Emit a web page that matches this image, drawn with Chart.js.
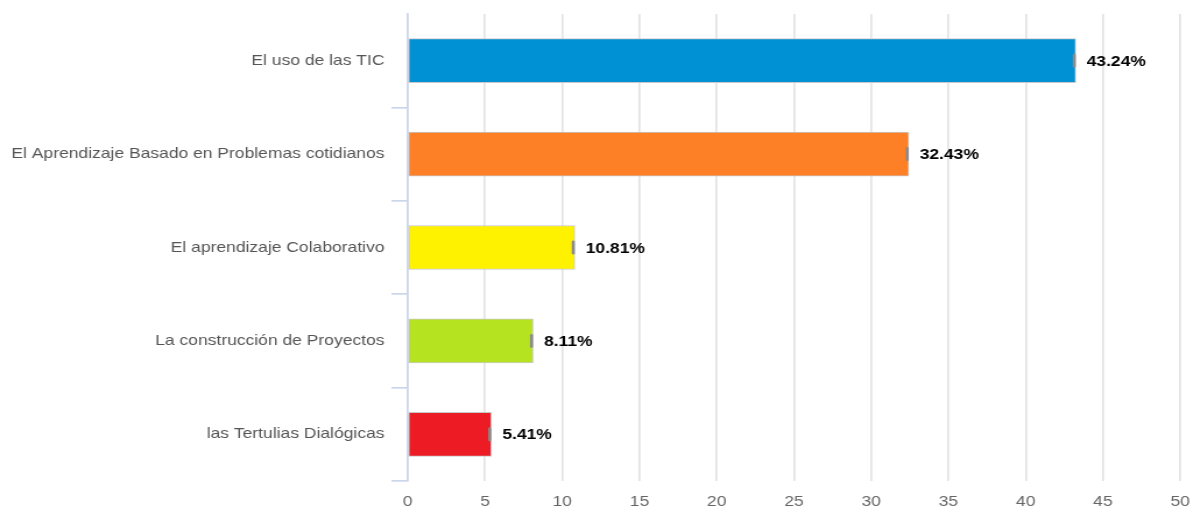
<!DOCTYPE html>
<html>
<head>
<meta charset="utf-8">
<script src="https://cdn.jsdelivr.net/npm/chart.js@4/dist/chart.umd.min.js"></script>
<style>
html,body{margin:0;padding:0;background:#fff;overflow:hidden;}
#wrap{width:1193px;height:506px;position:relative;overflow:hidden;}
#c{position:absolute;left:0;top:0;transform-origin:0 0;transform:scaleX(1.165);}
</style>
</head>
<body>
<div id="wrap"><canvas id="c" width="1024" height="506" style="width:1024px;height:506px"></canvas></div>
<script>
const categories = [
  "El uso de las TIC",
  "El Aprendizaje Basado en Problemas cotidianos",
  "El aprendizaje Colaborativo",
  "La construcción de Proyectos",
  "las Tertulias Dialógicas"
];
const values = [43.24, 32.43, 10.81, 8.11, 5.41];
const valueLabels = ["43.24%", "32.43%", "10.81%", "8.11%", "5.41%"];
const barColors = ["#0090d4", "#fd7f26", "#fff200", "#b5e31f", "#ed1c24"];
const xTicks = [0, 5, 10, 15, 20, 25, 30, 35, 40, 45, 50];

const FONT = '"Liberation Sans", Arial, sans-serif';

const labelPlugin = {
  id: 'valueLabels',
  afterDatasetsDraw(chart) {
    const ctx = chart.ctx;
    const meta = chart.getDatasetMeta(0);
    ctx.save();
    meta.data.forEach((bar, i) => {
      ctx.fillStyle = '#8a8a8a';
      ctx.beginPath();
      if (ctx.roundRect) ctx.roundRect(bar.x - 2.6, bar.y - 7, 2.6, 14, 1.3);
      else ctx.rect(bar.x - 2.6, bar.y - 7, 2.6, 14);
      ctx.fill();
      ctx.fillStyle = '#000';
      ctx.font = 'bold 15px ' + FONT;
      ctx.textAlign = 'left';
      ctx.textBaseline = 'middle';
      ctx.fillText(valueLabels[i], bar.x + 9.4, bar.y + 1);
    });
    ctx.restore();
  }
};

new Chart(document.getElementById('c'), {
  type: 'bar',
  data: {
    labels: categories,
    datasets: [{
      data: values,
      backgroundColor: barColors,
      borderColor: '#c8c8c8',
      borderWidth: 1,
      borderSkipped: false,
      barThickness: 44
    }]
  },
  options: {
    indexAxis: 'y',
    responsive: false,
    animation: false,
    devicePixelRatio: 1,
    layout: { padding: { top: 14, right: 11, left: 0, bottom: 0 } },
    plugins: { legend: { display: false }, tooltip: { enabled: false } },
    scales: {
      x: {
        min: 0, max: 50,
        afterBuildTicks(axis) { axis.ticks = xTicks.map(v => ({ value: v })); },
        afterFit(axis) { axis.height = 25; axis.paddingLeft = 0; axis.paddingRight = 0; },
        border: { display: false },
        grid: { color: '#e3e3e3', lineWidth: 1.7, drawTicks: false },
        ticks: {
          padding: 12,
          color: '#666',
          font: { family: FONT, size: 15 }
        }
      },
      y: {
        afterFit(axis) { axis.width = 350; axis.paddingTop = 0; axis.paddingBottom = 0; },
        border: { display: true, color: '#ccd6eb', width: 1.7 },
        grid: {
          drawOnChartArea: false,
          drawTicks: true,
          tickLength: 14,
          tickColor: (c) => c.index === 0 ? 'rgba(0,0,0,0)' : '#ccd6eb',
          lineWidth: 1.7
        },
        ticks: {
          padding: 6,
          color: '#555',
          font: { family: FONT, size: 15 }
        }
      }
    }
  },
  plugins: [labelPlugin]
});
</script>
</body>
</html>
